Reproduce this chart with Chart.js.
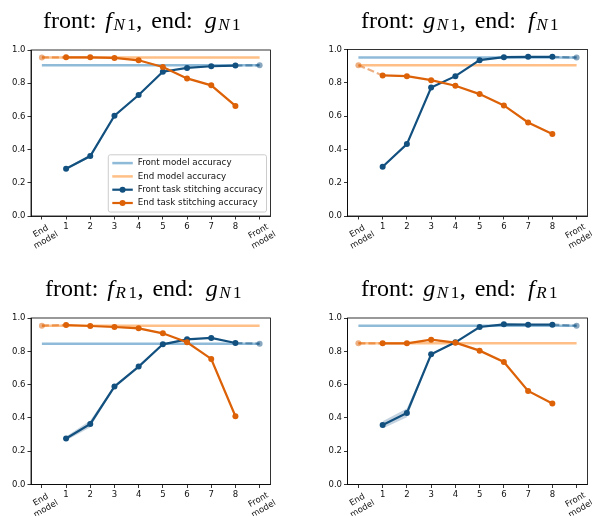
<!DOCTYPE html>
<html>
<head>
<meta charset="utf-8">
<script src="https://cdn.jsdelivr.net/npm/chart.js@4.4.0/dist/chart.umd.min.js"></script>
<style>
  html, body { margin: 0; padding: 0; background: #fff; }
  #page { position: relative; width: 592px; height: 516px; overflow: hidden; }
  canvas { position: absolute; width: 296px; height: 258px; }
  .title {
    position: absolute; font-family: 'Liberation Serif', 'Times New Roman', serif;
    font-size: 24px; line-height: 1; white-space: nowrap; color: #000;
  }
  .title > i { margin-left: 3px; }
  .title sub {
    font-size: 17px; vertical-align: baseline;
    position: relative; top: 1.5px; line-height: 0; margin-left: 1.5px;
  }
  .title sub i { margin-right: 2.5px; }
  .title .sep { margin-left: 0.5px; word-spacing: 3px; }
</style>
</head>
<body>
<div id="page">
  <canvas id="c1" width="296" height="258" style="left:0;top:0"></canvas>
  <canvas id="c2" width="296" height="258" style="left:296px;top:0"></canvas>
  <canvas id="c3" width="296" height="258" style="left:0;top:258px"></canvas>
  <canvas id="c4" width="296" height="258" style="left:296px;top:258px"></canvas>
  <div class="title" style="left:43px;top:8.2px">front: <i>f</i><sub><i>N</i>1</sub><span class="sep">, end: </span><i>g</i><sub><i>N</i>1</sub></div>
  <div class="title" style="left:361px;top:8.2px">front: <i>g</i><sub><i>N</i>1</sub><span class="sep">, end: </span><i>f</i><sub><i>N</i>1</sub></div>
  <div class="title" style="left:45px;top:276.2px">front: <i>f</i><sub><i>R</i>1</sub><span class="sep">, end: </span><i>g</i><sub><i>N</i>1</sub></div>
  <div class="title" style="left:361px;top:276.2px">front: <i>g</i><sub><i>N</i>1</sub><span class="sep">, end: </span><i>f</i><sub><i>R</i>1</sub></div>
</div>
<script>
// x positions: 0 = end model, 1..8 = stitching layer, 9 = front model
const layerTicks = [0, 1, 2, 3, 4, 5, 6, 7, 8, 9];
const xTickLabels = [['End', 'model'], '1', '2', '3', '4', '5', '6', '7', '8', ['Front', 'model']];
const stitchLayers = [1, 2, 3, 4, 5, 6, 7, 8];

// front f_N1, end g_N1
const frontAccA = 0.908;
const endAccA = 0.955;
const frontStitchA = [0.285, 0.361, 0.604, 0.729, 0.869, 0.892, 0.902, 0.906];
const endStitchA = [0.956, 0.956, 0.952, 0.938, 0.898, 0.829, 0.787, 0.663];
const frontSpreadA = [0.006, 0.009, 0.004, 0.003, 0.003, 0.002, 0.002, 0.002];
const endSpreadA = [0.002, 0.002, 0.002, 0.003, 0.003, 0.003, 0.003, 0.003];

// front g_N1, end f_N1
const frontAccB = 0.952;
const endAccB = 0.906;
const frontStitchB = [0.296, 0.432, 0.772, 0.84, 0.936, 0.954, 0.956, 0.956];
const endStitchB = [0.844, 0.84, 0.816, 0.782, 0.732, 0.664, 0.562, 0.492];
const frontSpreadB = [0.004, 0.005, 0.004, 0.003, 0.002, 0.002, 0.002, 0.002];
const endSpreadB = [0.002, 0.002, 0.002, 0.002, 0.002, 0.002, 0.003, 0.003];

// front f_R1, end g_N1
const frontAccC = 0.846;
const endAccC = 0.954;
const frontStitchC = [0.276, 0.364, 0.588, 0.708, 0.842, 0.872, 0.88, 0.85];
const endStitchC = [0.958, 0.952, 0.946, 0.938, 0.908, 0.854, 0.754, 0.41];
const frontSpreadC = [0.012, 0.02, 0.006, 0.004, 0.003, 0.003, 0.003, 0.003];
const endSpreadC = [0.002, 0.002, 0.004, 0.006, 0.003, 0.003, 0.003, 0.003];

// front g_N1, end f_R1
const frontAccD = 0.954;
const endAccD = 0.848;
const frontStitchD = [0.358, 0.43, 0.782, 0.854, 0.946, 0.962, 0.96, 0.96];
const endStitchD = [0.848, 0.848, 0.87, 0.852, 0.804, 0.736, 0.562, 0.486];
const frontSpreadD = [0.022, 0.026, 0.005, 0.003, 0.002, 0.002, 0.002, 0.002];
const endSpreadD = [0.002, 0.002, 0.003, 0.003, 0.003, 0.003, 0.003, 0.003];

const FRONT_LIGHT = 'rgba(31,119,180,0.5)';
const END_LIGHT = 'rgba(255,127,14,0.5)';
const FRONT_DARK = '#12507f';
const END_DARK = '#dc6107';
const FRONT_FADED = 'rgba(18,80,127,0.5)';
const END_FADED = 'rgba(220,97,7,0.5)';
const FRONT_BAND = 'rgba(18,80,127,0.25)';
const END_BAND = 'rgba(220,97,7,0.25)';

const FONT = '"DejaVu Sans", sans-serif';
const TICK_FS = 8.5;
const LEGEND_FS = 8.7;

// axes frame on all four sides
const axesFrame = {
  id: 'axesFrame',
  afterDraw(chart) {
    const { ctx, chartArea: a } = chart;
    ctx.save();
    ctx.strokeStyle = '#000';
    ctx.lineWidth = 0.8;
    ctx.strokeRect(a.left, a.top, a.right - a.left, a.bottom - a.top);
    ctx.restore();
  }
};

// x tick labels: digits upright, the two model labels slanted 30 degrees
const slantedTicks = {
  id: 'slantedTicks',
  afterDraw(chart) {
    const { ctx, chartArea } = chart;
    const xs = chart.scales.x;
    const ang = Math.PI / 6, lh = TICK_FS * 1.2;
    ctx.save();
    ctx.font = `${TICK_FS}px ${FONT}`;
    ctx.fillStyle = '#111';
    ctx.textAlign = 'center';
    ctx.textBaseline = 'middle';
    layerTicks.forEach((v, i) => {
      const lines = [].concat(xTickLabels[i]);
      const cx = xs.getPixelForValue(v);
      if (lines.length === 1) {
        ctx.fillText(lines[0], cx, chartArea.bottom + 5.5 + lh / 2);
        return;
      }
      const w = Math.max(...lines.map(t => ctx.measureText(t).width));
      const h = lines.length * lh;
      const bh = w * Math.sin(ang) + h * Math.cos(ang);
      ctx.save();
      ctx.translate(cx + 1.5, chartArea.bottom + 4.5 + bh / 2);
      ctx.rotate(-ang);
      lines.forEach((t, k) => ctx.fillText(t, 0, (k - (lines.length - 1) / 2) * lh));
      ctx.restore();
    });
    ctx.restore();
  }
};

// framed legend in the lower right corner of the axes
const boxLegend = {
  id: 'boxLegend',
  afterDraw(chart, args, opts) {
    if (!opts.show) return;
    const { ctx, chartArea: a } = chart;
    const items = chart.data.datasets.filter(d => d.label);
    ctx.save();
    ctx.font = `${LEGEND_FS}px ${FONT}`;
    const textW = Math.max(...items.map(d => ctx.measureText(d.label).width));
    const rowH = 13.3, handle = 20.5, pad = 4, gap = 5;
    const w = pad + handle + gap + textW + 3.5;
    const h = items.length * rowH + 4;
    const x0 = a.right - 4 - w, y0 = a.bottom - 4 - h;
    ctx.fillStyle = 'rgba(255,255,255,0.8)';
    ctx.strokeStyle = '#cccccc';
    ctx.lineWidth = 1;
    ctx.beginPath();
    ctx.roundRect(x0, y0, w, h, 2);
    ctx.fill();
    ctx.stroke();
    items.forEach((d, i) => {
      const cy = y0 + 8.3 + i * rowH;
      ctx.strokeStyle = d.borderColor;
      ctx.lineWidth = d.borderWidth;
      ctx.beginPath();
      ctx.moveTo(x0 + pad, cy);
      ctx.lineTo(x0 + pad + handle, cy);
      ctx.stroke();
      if (d.pointRadius > 0) {
        ctx.fillStyle = d.borderColor;
        ctx.beginPath();
        ctx.arc(x0 + pad + handle / 2, cy, d.pointRadius, 0, Math.PI * 2);
        ctx.fill();
      }
      ctx.fillStyle = '#111';
      ctx.textAlign = 'left';
      ctx.textBaseline = 'middle';
      ctx.fillText(d.label, x0 + pad + handle + gap, cy);
    });
    ctx.restore();
  }
};

function makePanel(id, area, frontAcc, endAcc, frontStitch, endStitch, frontSpread, endSpread, showLegend) {
  const pts = vals => stitchLayers.map((l, i) => ({ x: l, y: vals[i] }));
  const shifted = (vals, spread, s) => stitchLayers.map((l, i) => ({ x: l, y: vals[i] + s * spread[i] }));
  const flat = v => [{ x: 0, y: v }, { x: 9, y: v }];
  const hidden = { borderWidth: 0, pointRadius: 0, fill: false };

  const datasets = [
    { label: 'Front model accuracy', data: flat(frontAcc), borderColor: FRONT_LIGHT, borderWidth: 2.5, pointRadius: 0, order: 6 },
    { label: 'End model accuracy', data: flat(endAcc), borderColor: END_LIGHT, borderWidth: 2.5, pointRadius: 0, order: 5 },
    { data: shifted(frontStitch, frontSpread, -1), ...hidden, order: 4 },
    { data: shifted(frontStitch, frontSpread, 1), borderWidth: 0, pointRadius: 0, backgroundColor: FRONT_BAND, fill: { target: 2 }, order: 4 },
    { data: shifted(endStitch, endSpread, -1), ...hidden, order: 4 },
    { data: shifted(endStitch, endSpread, 1), borderWidth: 0, pointRadius: 0, backgroundColor: END_BAND, fill: { target: 4 }, order: 4 },
    { data: [{ x: 8, y: frontStitch[7] }, { x: 9, y: frontAcc }], borderColor: FRONT_FADED, backgroundColor: FRONT_FADED,
      borderWidth: 2.2, borderDash: [7, 3], pointRadius: [0, 3], pointBorderWidth: 0, order: 3 },
    { data: [{ x: 0, y: endAcc }, { x: 1, y: endStitch[0] }], borderColor: END_FADED, backgroundColor: END_FADED,
      borderWidth: 2.2, borderDash: [7, 3], pointRadius: [3, 0], pointBorderWidth: 0, order: 2 },
    { label: 'Front task stitching accuracy', data: pts(frontStitch), borderColor: FRONT_DARK, backgroundColor: FRONT_DARK,
      borderWidth: 2.2, pointRadius: 3, pointBorderWidth: 0, order: 1 },
    { label: 'End task stitching accuracy', data: pts(endStitch), borderColor: END_DARK, backgroundColor: END_DARK,
      borderWidth: 2.2, pointRadius: 3, pointBorderWidth: 0, order: 0 },
  ];

  new Chart(document.getElementById(id), {
    type: 'line',
    data: { datasets },
    options: {
      responsive: false,
      animation: false,
      devicePixelRatio: 1,
      events: [],
      layout: { padding: { left: area.left - 31, top: area.top, right: 296 - area.right, bottom: 258 - area.bottom - 30 } },
      plugins: { legend: { display: false }, tooltip: { enabled: false }, title: { display: false }, boxLegend: { show: showLegend } },
      scales: {
        x: {
          type: 'linear', min: -0.45, max: 9.45,
          afterBuildTicks: s => { s.ticks = layerTicks.map(v => ({ value: v })); },
          afterFit: s => { s.height = 30; },
          ticks: { display: false },
          grid: { drawOnChartArea: false, drawTicks: true, tickLength: 3.5, color: '#000', lineWidth: 0.8 },
          border: { display: true, color: '#000', width: 0.8 },
        },
        y: {
          min: 0, max: 1,
          afterFit: s => { s.width = 31; },
          ticks: { stepSize: 0.2, padding: 2, color: '#111', font: { family: FONT, size: TICK_FS }, callback: v => v.toFixed(1) },
          grid: { drawOnChartArea: false, drawTicks: true, tickLength: 3.5, color: '#000', lineWidth: 0.8 },
          border: { display: true, color: '#000', width: 0.8 },
        },
      },
    },
    plugins: [axesFrame, slantedTicks, boxLegend],
  });
}

makePanel('c1', { left: 31, top: 50, right: 270.5, bottom: 216 }, frontAccA, endAccA, frontStitchA, endStitchA, frontSpreadA, endSpreadA, true);
makePanel('c2', { left: 51.5, top: 49.5, right: 291.5, bottom: 216 }, frontAccB, endAccB, frontStitchB, endStitchB, frontSpreadB, endSpreadB, false);
makePanel('c3', { left: 31, top: 60, right: 270.5, bottom: 226.5 }, frontAccC, endAccC, frontStitchC, endStitchC, frontSpreadC, endSpreadC, false);
makePanel('c4', { left: 51.5, top: 60, right: 291.5, bottom: 226.5 }, frontAccD, endAccD, frontStitchD, endStitchD, frontSpreadD, endSpreadD, false);
</script>
</body>
</html>
